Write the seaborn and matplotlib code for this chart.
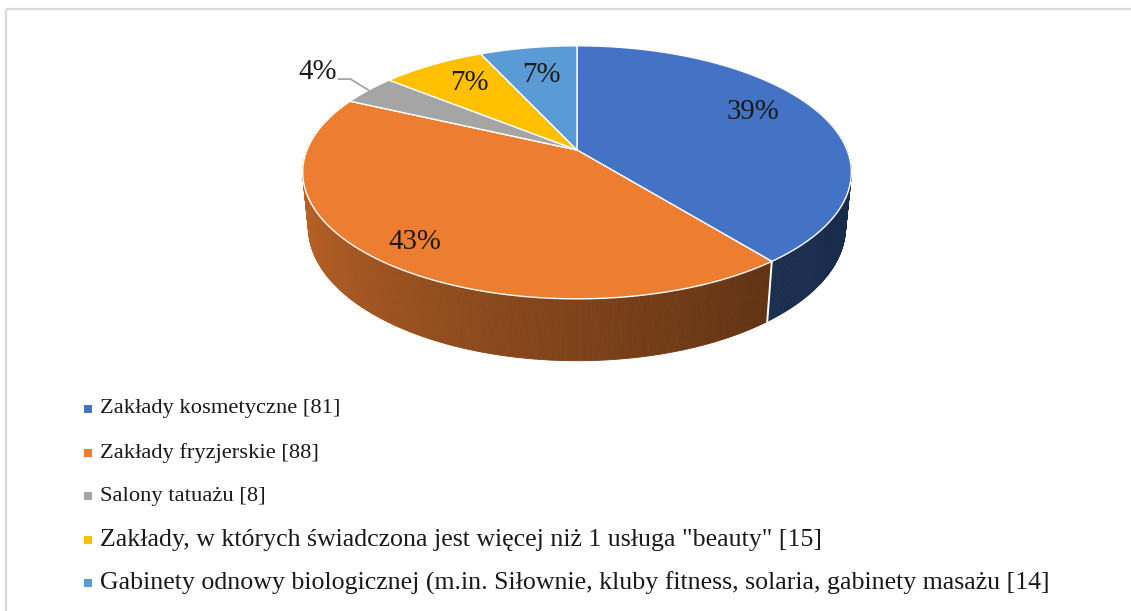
import numpy as np
import matplotlib
matplotlib.use("Agg")
import matplotlib.pyplot as plt
import seaborn as sns
from matplotlib.patches import Polygon, Rectangle
from matplotlib.colors import to_rgb

# ---------------- data ----------------
categories = [
    "Zakłady kosmetyczne",
    "Zakłady fryzjerskie",
    "Salony tatuażu",
    "Zakłady, w których świadczona jest więcej niż 1 usługa \"beauty\"",
    "Gabinety odnowy biologicznej (m.in. Siłownie, kluby fitness, solaria, gabinety masażu",
]
counts = [81, 88, 8, 15, 14]
colors = ["#4472C4", "#ED7D31", "#A5A5A5", "#FFC000", "#5B9BD5"]

# ---------------- style / layout ----------------
sns.set_theme(style="white")
plt.rcParams['font.family'] = ['Liberation Serif', 'DejaVu Serif']

W, H_PX = 1131, 611
fig = plt.figure(figsize=(W / 100, H_PX / 100), dpi=100)
ax = fig.add_axes([0, 0, 1, 1])
ax.set_xlim(0, W)
ax.set_ylim(H_PX, 0)
ax.axis('off')

# chart frame
ax.add_patch(Rectangle((5.5, 8.5), 3000, 3000, fill=False, edgecolor="#d9d9d9", lw=1.6, zorder=0))

# 3D pie projection parameters
CX, CY = 577, 150       # apex on screen
S = 270                 # screen scale of radius
PHI = np.radians(27)    # tilt
RD = 0.198              # radius / camera distance
THICK = 0.23            # thickness / radius


def proj(rho, theta, z):
    x = rho * np.cos(theta)
    y = rho * np.sin(theta)
    v = y * np.sin(PHI) + z * np.cos(PHI)
    w = y * np.cos(PHI) - z * np.sin(PHI)
    s = S / (1 + RD * w)
    return CX + x * s, CY - v * s, w


vals = np.array(counts, dtype=float)
frac = vals / vals.sum()
cum = np.concatenate([[0], np.cumsum(frac)])
# slices start at 12 o'clock and go clockwise
start_deg = 90 - 360 * cum[:-1]
end_deg = 90 - 360 * cum[1:]


def slice_of(theta_deg):
    cw = ((90 - theta_deg) % 360) / 360.0
    return int(np.clip(np.searchsorted(cum, cw, side='right') - 1, 0, len(vals) - 1))


def shade(theta_deg):
    t = theta_deg
    if t > 90:
        t -= 360
    return np.interp(t, [-200, -180, -90, -50, 0, 20], [0.85, 0.84, 0.53, 0.40, 0.37, 0.37])


# ---- side (draw back-to-front) ----
step = 0.5
thetas = np.arange(-205, 20 + step, step)
quads = []
for t1, t2 in zip(thetas[:-1], thetas[1:]):
    tm = 0.5 * (t1 + t2)
    a1, a2 = np.radians(t1), np.radians(t2)
    x1, y1, _ = proj(1, a1, 0)
    x2, y2, _ = proj(1, a2, 0)
    x3, y3, _ = proj(1, a2, -THICK)
    x4, y4, _ = proj(1, a1, -THICK)
    _, _, wm = proj(1, np.radians(tm), 0)
    col = np.array(to_rgb(colors[slice_of(tm)])) * shade(tm)
    quads.append((wm, [(x1, y1), (x2, y2), (x3, y3), (x4, y4)], col))
quads.sort(key=lambda q: -q[0])
for _, pts, col in quads:
    ax.add_patch(Polygon(pts, closed=True, facecolor=col, edgecolor=col, lw=0.6, zorder=2))

# white seams on visible side boundaries
for e in end_deg:
    ed = e if e > -200 else e + 360
    if -200 < ed < 10:
        a = np.radians(ed)
        xt, yt, _ = proj(1, a, 0)
        xb, yb, _ = proj(1, a, -THICK)
        ax.plot([xt, xb], [yt, yb], color="white", lw=1.4, zorder=3)

# ---- top face ----
for i in range(len(vals)):
    ang = np.radians(np.linspace(start_deg[i], end_deg[i], 200))
    xs, ys, _ = proj(1, ang, 0)
    pts = [(CX, CY)] + list(zip(xs, ys))
    ax.add_patch(Polygon(pts, closed=True, facecolor=colors[i], edgecolor="white", lw=1.0,
                         joinstyle="round", zorder=4))

# ---- data labels ----
pct = [f"{round(f * 100):.0f}%" for f in frac]
label_rho = [0.72, 0.85, None, 0.72, 0.70]
label_dy = [-10, 0, 0, -3, 0]
LABEL_FS = 20.8
for i in range(len(vals)):
    mid = np.radians(0.5 * (start_deg[i] + end_deg[i]))
    if label_rho[i] is not None:
        lx, ly, _ = proj(label_rho[i], mid, 0)
        ax.text(lx, ly + label_dy[i], pct[i], ha="center", va="center", fontsize=LABEL_FS,
                color="#1a1a1a", zorder=6)
    else:
        px, py, _ = proj(1.0, mid, 0)
        ex, ey = px - 18, py - 11
        hx = ex - 12
        ax.plot([px, ex, hx], [py, ey, ey], color="#a5a5a5", lw=1.3, zorder=5)
        ax.text(hx - 2, ey - 7, pct[i], ha="right", va="center", fontsize=LABEL_FS,
                color="#1a1a1a", zorder=6)

# ---- legend ----
LEG_X, LEG_Y0, LEG_DY = 88, 409, 43.6
leg_fs = [16.2, 16.2, 16.2, 18.6, 18.6]
for i, (cat, n) in enumerate(zip(categories, counts)):
    y = LEG_Y0 + i * LEG_DY
    ax.scatter([LEG_X], [y], marker="s", s=26, color=colors[i], linewidths=0, zorder=6)
    ax.text(LEG_X + 12, y, f"{cat} [{n}]", ha="left", va="center", fontsize=leg_fs[i],
            color="#1a1a1a", zorder=6)

fig.savefig("out.png", dpi=100, facecolor="white")
